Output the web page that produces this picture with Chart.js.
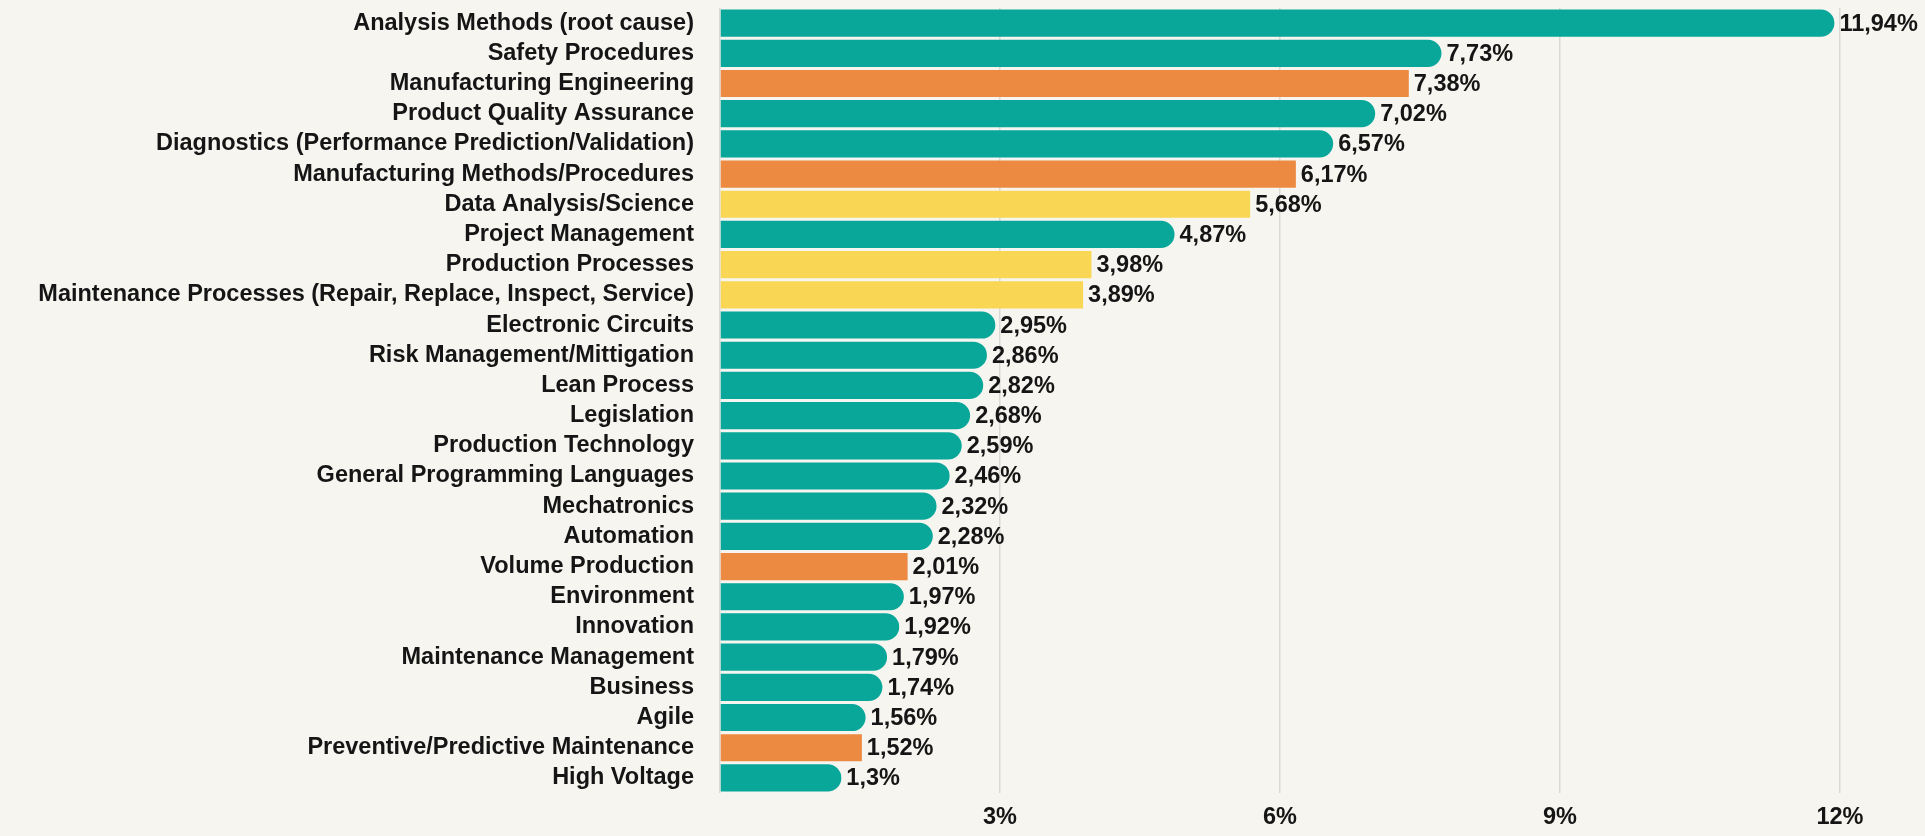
<!DOCTYPE html>
<html>
<head>
<meta charset="utf-8">
<script src="https://cdn.jsdelivr.net/npm/chart.js@4/dist/chart.umd.min.js"></script>
<style>
  html, body { margin: 0; padding: 0; background: #f6f5f0; }
  #wrap { width: 1925px; height: 836px; }
</style>
</head>
<body>
<div id="wrap"><canvas id="c" width="1925" height="836"></canvas></div>
<script>
const categories = [
  "Analysis Methods (root cause)",
  "Safety Procedures",
  "Manufacturing Engineering",
  "Product Quality Assurance",
  "Diagnostics (Performance Prediction/Validation)",
  "Manufacturing Methods/Procedures",
  "Data Analysis/Science",
  "Project Management",
  "Production Processes",
  "Maintenance Processes (Repair, Replace, Inspect, Service)",
  "Electronic Circuits",
  "Risk Management/Mittigation",
  "Lean Process",
  "Legislation",
  "Production Technology",
  "General Programming Languages",
  "Mechatronics",
  "Automation",
  "Volume Production",
  "Environment",
  "Innovation",
  "Maintenance Management",
  "Business",
  "Agile",
  "Preventive/Predictive Maintenance",
  "High Voltage"
];
const values = [11.94, 7.73, 7.38, 7.02, 6.57, 6.17, 5.68, 4.87, 3.98, 3.89, 2.95, 2.86, 2.82, 2.68, 2.59, 2.46, 2.32, 2.28, 2.01, 1.97, 1.92, 1.79, 1.74, 1.56, 1.52, 1.3];
const groups = ["teal","teal","orange","teal","teal","orange","yellow","teal","yellow","yellow","teal","teal","teal","teal","teal","teal","teal","teal","orange","teal","teal","teal","teal","teal","orange","teal"];
const xTicks = [0, 3, 6, 9, 12];
const xTickLabels = ["", "3%", "6%", "9%", "12%"];

const palette = { teal: "#08a79a", orange: "#ec8a41", yellow: "#f9d653" };
const FONT = '"Liberation Sans", Arial, Helvetica, sans-serif';
const TEXT = "#151515";
const GRID = "#dadad6";

const valueLabels = {
  id: "valueLabels",
  afterDatasetsDraw(chart) {
    const ctx = chart.ctx;
    const meta = chart.getDatasetMeta(0);
    ctx.save();
    ctx.font = "bold 23.5px " + FONT;
    ctx.fillStyle = TEXT;
    ctx.textAlign = "left";
    ctx.textBaseline = "middle";
    meta.data.forEach((bar, i) => {
      const txt = String(values[i]).replace(".", ",") + "%";
      ctx.fillText(txt, bar.x + 5, bar.y + 1);
    });
    ctx.restore();
  }
};

new Chart(document.getElementById("c"), {
  type: "bar",
  data: {
    labels: categories,
    datasets: [{
      data: values,
      backgroundColor: groups.map(g => palette[g]),
      borderRadius: groups.map(g => g === "teal" ? 30 : 0),
      borderSkipped: "start",
      borderWidth: 0,
      categoryPercentage: 0.9,
      barPercentage: 1.0
    }]
  },
  options: {
    indexAxis: "y",
    responsive: false,
    animation: false,
    devicePixelRatio: 1,
    layout: { padding: { top: 8, right: 85, bottom: 0, left: 0 } },
    plugins: { legend: { display: false }, tooltip: { enabled: false } },
    scales: {
      x: {
        type: "linear",
        min: 0,
        max: 12,
        afterBuildTicks(scale) { scale.ticks = xTicks.map(v => ({ value: v })); },
        afterFit(scale) { scale.height = 43; scale.paddingLeft = 0; scale.paddingRight = 0; },
        grid: { color: GRID, lineWidth: 1.5, drawTicks: false },
        border: { display: false },
        ticks: {
          padding: 10,
          color: TEXT,
          font: { family: FONT, size: 23.5, weight: "bold" },
          callback: (v) => xTickLabels[xTicks.indexOf(v)] ?? ""
        }
      },
      y: {
        afterFit(scale) { scale.width = 720; scale.paddingTop = 0; scale.paddingBottom = 0; },
        grid: { display: false, drawTicks: false },
        border: { display: false },
        ticks: {
          autoSkip: false,
          padding: 26,
          color: TEXT,
          font: { family: FONT, size: 23.5, weight: "bold" }
        }
      }
    }
  },
  plugins: [valueLabels]
});
</script>
</body>
</html>
